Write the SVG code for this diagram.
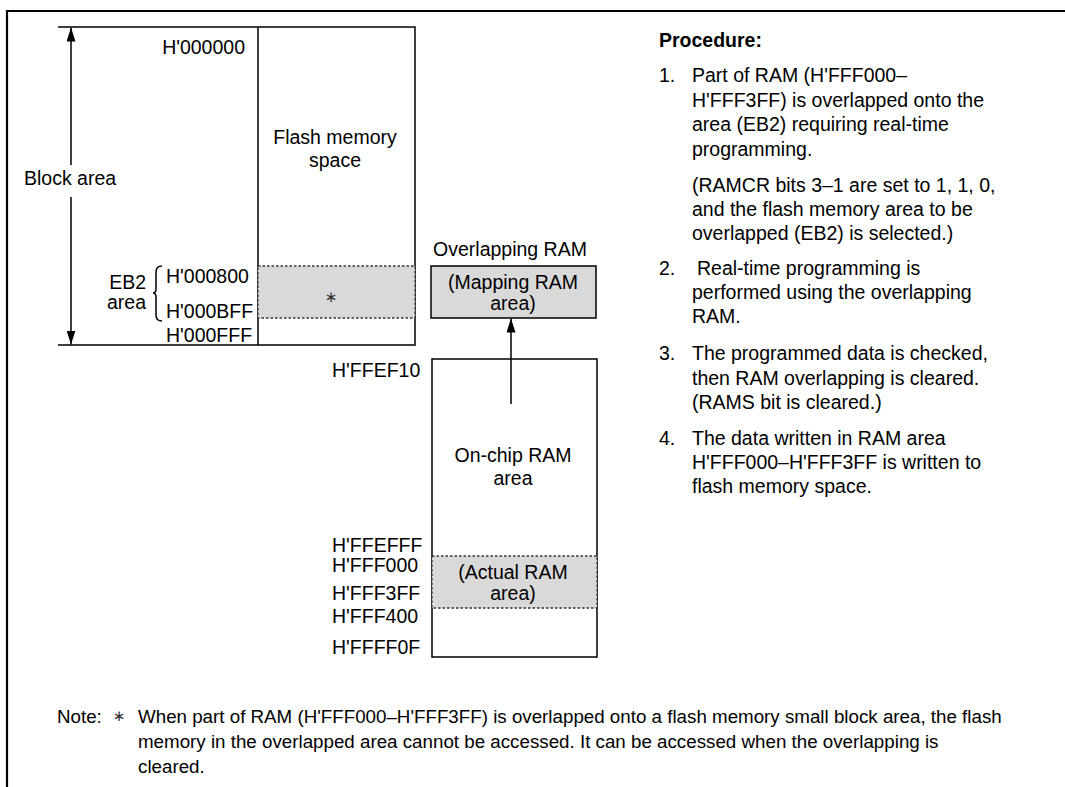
<svg xmlns="http://www.w3.org/2000/svg" width="1065" height="787" viewBox="0 0 1065 787">
<defs>
<style>
text{font-family:"Liberation Sans",Arial,sans-serif;font-size:19.5px;fill:#000}
.b{font-weight:bold}
.m{text-anchor:middle}
.e{text-anchor:end}
.ln{stroke:#000;stroke-width:1.5;fill:none}
.dot{fill:#d9d9d9;stroke:#333;stroke-width:1.3;stroke-dasharray:2.5 2}
.ast{font-family:"DejaVu Sans",sans-serif;font-size:15px;fill:#333;text-anchor:middle}
.nt{font-size:18.75px}
</style>
<marker id="ah2" viewBox="0 0 14 9" refX="14" refY="4.5" markerWidth="14" markerHeight="9" markerUnits="userSpaceOnUse" orient="auto"><path d="M0,0 L14,4.5 L0,9 Z" fill="#000"/></marker>
</defs>
<rect width="1065" height="787" fill="#fff"/>
<g id="frame"><path d="M7,787 V11 H1065" stroke="#000" stroke-width="2.2" fill="none"/></g>

<g id="flash">
<path class="ln" d="M58,27 H415 V345 H58 M258,27 V345"/>
<rect class="dot" x="258" y="266" width="157" height="52"/>
<text class="ast" x="331" y="302">∗</text>
<text class="m" x="335" y="144">Flash memory</text>
<text class="m" x="335" y="167">space</text>
<text class="e" x="245" y="54">H'000000</text>
<text x="166" y="283">H'000800</text>
<text x="166" y="318">H'000BFF</text>
<text x="166" y="342">H'000FFF</text>
</g>

<g id="block-area">
<text x="24" y="185">Block area</text>
</g>

<g id="eb2">
<text class="e" x="146" y="289">EB2</text>
<text class="e" x="146" y="309">area</text>
<path class="ln" stroke-width="1.2" d="M162,266 Q156,266 156,272 V289 Q156,293 153,293 Q156,293 156,297 V315 Q156,321 162,321"/>
</g>

<g id="overlap">
<text class="m" x="510" y="256">Overlapping RAM</text>
<rect x="431" y="266" width="165" height="52" fill="#d9d9d9" stroke="#000" stroke-width="1.5"/>
<text class="m" x="513" y="289">(Mapping RAM</text>
<text class="m" x="513" y="310">area)</text>
</g>

<g id="onchip">
<rect x="432" y="359" width="165" height="298" class="ln"/>
<rect class="dot" x="432" y="556" width="165" height="52"/>
<text class="m" x="513" y="462">On-chip RAM</text>
<text class="m" x="513" y="485">area</text>
<text class="m" x="513" y="579">(Actual RAM</text>
<text class="m" x="513" y="600">area)</text>
<text x="332" y="377">H'FFEF10</text>
<text x="332" y="552">H'FFEFFF</text>
<text x="332" y="572">H'FFF000</text>
<text x="332" y="600">H'FFF3FF</text>
<text x="332" y="623">H'FFF400</text>
<text x="332" y="654">H'FFFF0F</text>
</g>

<g id="connectors">
<line class="ln" x1="71" y1="165" x2="71" y2="27.5" marker-end="url(#ah2)"/>
<line class="ln" x1="71" y1="197" x2="71" y2="344.5" marker-end="url(#ah2)"/>
<line class="ln" x1="511" y1="404" x2="511" y2="318.5" marker-end="url(#ah2)"/>
</g>

<g id="procedure">
<text class="b" x="659" y="47">Procedure:</text>
<text x="659" y="82">1.</text>
<text x="692" y="82">Part of RAM (H'FFF000–</text>
<text x="692" y="107">H'FFF3FF) is overlapped onto the</text>
<text x="692" y="131">area (EB2) requiring real-time</text>
<text x="692" y="156">programming.</text>
<text x="692" y="192">(RAMCR bits 3–1 are set to 1, 1, 0,</text>
<text x="692" y="216">and the flash memory area to be</text>
<text x="692" y="240">overlapped (EB2) is selected.)</text>
<text x="659" y="275">2.</text>
<text x="697" y="275">Real-time programming is</text>
<text x="692" y="299">performed using the overlapping</text>
<text x="692" y="323">RAM.</text>
<text x="659" y="360">3.</text>
<text x="692" y="360">The programmed data is checked,</text>
<text x="692" y="385">then RAM overlapping is cleared.</text>
<text x="692" y="409">(RAMS bit is cleared.)</text>
<text x="659" y="445">4.</text>
<text x="692" y="445">The data written in RAM area</text>
<text x="692" y="469">H'FFF000–H'FFF3FF is written to</text>
<text x="692" y="493">flash memory space.</text>
</g>

<g id="note">
<text class="nt" x="57" y="723">Note:</text>
<text class="ast" x="119" y="721">∗</text>
<text class="nt" x="138" y="723">When part of RAM (H'FFF000–H'FFF3FF) is overlapped onto a flash memory small block area, the flash</text>
<text class="nt" x="138" y="748">memory in the overlapped area cannot be accessed. It can be accessed when the overlapping is</text>
<text class="nt" x="138" y="773">cleared.</text>
</g>
</svg>
